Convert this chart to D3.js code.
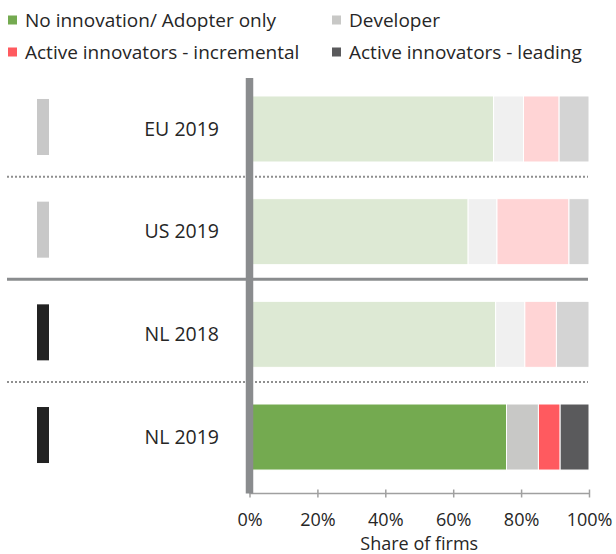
<!DOCTYPE html>
<html>
<head>
<meta charset="utf-8">
<script src="https://cdn.jsdelivr.net/npm/d3@7"></script>
<style>
  body { margin: 0; background: #fff; }
  text { font-family: "Segoe UI", "Open Sans", sans-serif; fill: #262626; }
</style>
</head>
<body>
<script>
// data
let categories = ["EU 2019", "US 2019", "NL 2018", "NL 2019"];
let seriesNames = ["No innovation/ Adopter only", "Developer", "Active innovators - incremental", "Active innovators - leading"];
let noInnovation = [71.9, 64.4, 72.5, 75.7];
let developer = [8.8, 8.5, 8.6, 9.4];
let incremental = [10.5, 21.2, 9.3, 6.4];
let leading = [8.8, 5.9, 9.6, 8.5];
let highlighted = ["NL 2019"];
let markerGroup = ["other", "other", "NL", "NL"];
let tickValues = [0, 20, 40, 60, 80, 100];

let fullColors = ["#74aa50", "#c8c8c6", "#ff5a5f", "#5a5a5c"];
let fadedColors = ["#dde9d4", "#f0f0f0", "#ffd4d5", "#d4d4d4"];

let width = 616, height = 554;
let svg = d3.select("body").append("svg").attr("width", width).attr("height", height);

//---------------------------------------------------------------------------------------------------//
// scales
let x = d3.scaleLinear().domain([0, 100]).range([249.5, 589]);
let y = d3.scaleBand().domain(categories).range([78, 488]).paddingInner(0.357).paddingOuter(0.175);

let rows = categories.map((c, i) => ({ cat: c, noInnovation: noInnovation[i], developer: developer[i], incremental: incremental[i], leading: leading[i] }));
let keys = ["noInnovation", "developer", "incremental", "leading"];
let stacked = d3.stack().keys(keys)(rows);

//---------------------------------------------------------------------------------------------------//
// separators
let gap = y.step() - y.bandwidth();
categories.slice(0, -1).forEach((c, i) => {
    let yy = y(c) + y.bandwidth() + gap * 0.4;
    let solid = markerGroup[i] !== markerGroup[i + 1];
    svg.append("line")
        .attr("x1", 7).attr("x2", 588)
        .attr("y1", yy).attr("y2", yy)
        .attr("stroke", solid ? "#8a8c8e" : "#8f8f8f")
        .attr("stroke-width", solid ? 3 : 2)
        .attr("stroke-dasharray", solid ? null : "2,2");
});

//---------------------------------------------------------------------------------------------------//
// bars
stacked.forEach((layer, si) => {
    svg.append("g").selectAll("rect").data(layer).enter().append("rect")
        .attr("x", d => x(d[0]))
        .attr("y", d => y(d.data.cat))
        .attr("width", d => x(d[1]) - x(d[0]))
        .attr("height", y.bandwidth())
        .attr("fill", d => highlighted.includes(d.data.cat) ? fullColors[si] : fadedColors[si])
        .attr("stroke", "#fff")
        .attr("stroke-width", 1);
});

// markers and category labels
svg.append("g").selectAll("rect").data(categories).enter().append("rect")
    .attr("x", 37).attr("width", 12)
    .attr("y", d => y(d) + y.bandwidth() / 2 - 30)
    .attr("height", 56)
    .attr("fill", (d, i) => markerGroup[i] === "NL" ? "#222" : "#c8c8c8");

svg.append("g").selectAll("text").data(categories).enter().append("text")
    .attr("x", 219)
    .attr("y", d => y(d) + y.bandwidth() / 2)
    .attr("dy", "0.35em")
    .attr("text-anchor", "end")
    .attr("font-size", "19.5px")
    .text(d => d);

//---------------------------------------------------------------------------------------------------//
// x axis
let xAxis = d3.axisBottom(x).tickValues(tickValues).tickFormat(d => d + "%").tickSize(4);
let axisG = svg.append("g").attr("transform", "translate(0, 493.5)").call(xAxis);
axisG.select(".domain").attr("stroke", "#a0a0a0").attr("stroke-width", 1.5).attr("d", "M" + x(0) + ",0H" + x(100));
axisG.selectAll(".tick line").attr("y1", -4).attr("y2", 4).attr("stroke", "#a0a0a0").attr("stroke-width", 1.5);
axisG.selectAll(".tick text").attr("y", 32.5).attr("dy", 0).attr("font-size", "18px")
    .style("font-family", "'Segoe UI', 'Open Sans', sans-serif").attr("fill", "#262626");

svg.append("text")
    .attr("x", (x(0) + x(100)) / 2)
    .attr("y", 550)
    .attr("text-anchor", "middle")
    .attr("font-size", "18px")
    .text("Share of firms");

// thick vertical zero line
svg.append("line")
    .attr("x1", x(0)).attr("x2", x(0))
    .attr("y1", 78).attr("y2", 493.5)
    .attr("stroke", "#8a8c8e")
    .attr("stroke-width", 7.5);

//---------------------------------------------------------------------------------------------------//
// legend
let legendPos = [[8, 20], [332, 20], [8, 52], [332, 52]];
let legend = svg.append("g").selectAll("g").data(seriesNames).enter().append("g")
    .attr("transform", (d, i) => "translate(" + legendPos[i][0] + "," + legendPos[i][1] + ")");
legend.append("rect").attr("x", 0).attr("y", -4.5).attr("width", 9).attr("height", 9)
    .attr("fill", (d, i) => fullColors[i]);
legend.append("text").attr("x", 17).attr("dy", "0.35em").attr("font-size", "19px").text(d => d);
</script>
</body>
</html>
